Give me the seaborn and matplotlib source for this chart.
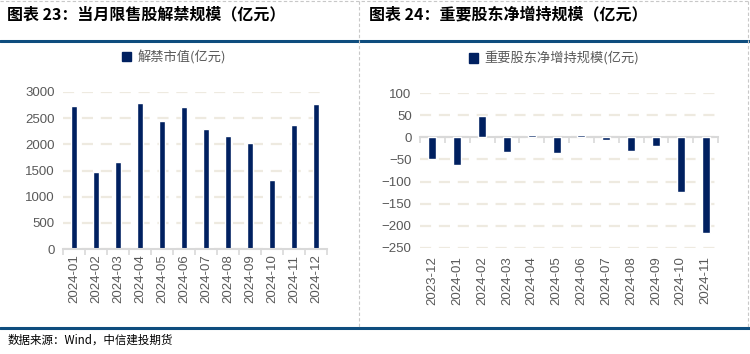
import pandas as pd
import matplotlib.pyplot as plt
import seaborn as sns
import numpy as np
from matplotlib.lines import Line2D
from matplotlib.patches import Patch

# data
unlock_months = ["2024-01", "2024-02", "2024-03", "2024-04", "2024-05", "2024-06",
                 "2024-07", "2024-08", "2024-09", "2024-10", "2024-11", "2024-12"]
unlock_values = [2732, 1471, 1662, 2790, 2446, 2713, 2293, 2159, 2025, 1318, 2369, 2771]

holder_months = ["2023-12", "2024-01", "2024-02", "2024-03", "2024-04", "2024-05",
                 "2024-06", "2024-07", "2024-08", "2024-09", "2024-10", "2024-11"]
holder_values = [-48, -62, 49, -34, 6, -36, 6, -5, -31, -20, -123, -215]

titles = ["图表 23：当月限售股解禁规模（亿元）", "图表 24：重要股东净增持规模（亿元）"]
legends = ["解禁市值(亿元)", "重要股东净增持规模(亿元)"]
source = "数据来源：Wind，中信建投期货"

bar_color = "#002060"
grid_color = "#EEEAE0"
axis_color = "#D9D9D9"
text_color = "#595959"
rule_color = "#0E4D7E"

sns.set_theme(style="white")
plt.rcParams["font.family"] = ["Liberation Sans", "Noto Sans CJK SC", "DejaVu Sans"]

fig = plt.figure(figsize=(7.5, 3.54), dpi=100)
W, H = 750, 354


def fx(px):
    return px / W


def fy(py):
    return 1 - py / H


# frame decorations (rules, dividers)
fig.add_artist(Line2D([0, 1], [fy(40.5), fy(40.5)], color=rule_color, lw=2.2))
fig.add_artist(Line2D([0, 1], [fy(328), fy(328)], color=rule_color, lw=2.2))
fig.add_artist(Line2D([fx(359), fx(359)], [fy(1), fy(328)], color="#C8C8C8", lw=0.8, ls=(0, (3, 2))))
fig.add_artist(Line2D([fx(748), fx(748)], [fy(1), fy(328)], color="#C8C8C8", lw=0.8, ls=(0, (3, 2))))
fig.add_artist(Line2D([0, 1], [fy(1), fy(1)], color="#C8C8C8", lw=0.8, ls=(0, (3, 2))))

fig.text(fx(7), fy(14), titles[0], fontsize=11.5, fontweight="bold", color="black",
         va="center", ha="left", family=["Noto Sans CJK SC"])
fig.text(fx(369), fy(14), titles[1], fontsize=11.5, fontweight="bold", color="black",
         va="center", ha="left", family=["Noto Sans CJK SC"])
fig.text(fx(8), fy(340), source, fontsize=8.3, color="black", va="center", ha="left",
         family=["Noto Sans CJK SC"], style="italic")


def style_axis(ax, label, anchor_x):
    ax.set_facecolor("white")
    for s in ["top", "right", "left"]:
        ax.spines[s].set_visible(False)
    ax.yaxis.grid(True, color=grid_color, lw=1.6, ls=(0, (5, 3.5)))
    ax.set_axisbelow(True)
    ax.set_xlabel("")
    ax.set_ylabel("")
    ax.tick_params(axis="y", length=0, labelsize=9.5, labelcolor=text_color, pad=6)
    leg = ax.legend(handles=[Patch(color=bar_color, label=label)], loc="lower center",
                    bbox_to_anchor=(anchor_x, 1.1), frameon=False, handlelength=0.7,
                    handleheight=0.7, handletextpad=0.5,
                    prop={"family": "Noto Sans CJK SC", "size": 9.5})
    for t in leg.get_texts():
        t.set_color(text_color)


# left chart
ax1 = fig.add_axes([fx(63), fy(249), fx(327) - fx(63), fy(92) - fy(249)])
df1 = pd.DataFrame({"month": unlock_months, "value": unlock_values})
sns.barplot(data=df1, x="month", y="value", color=bar_color, saturation=1, width=0.27, ax=ax1)
ax1.set_ylim(0, 3000)
ax1.set_yticks(np.arange(0, 3001, 500))
ax1.set_xlim(-0.5, len(unlock_months) - 0.5)
ax1.spines["bottom"].set_color(axis_color)
ax1.spines["bottom"].set_linewidth(1.5)
ax1.set_xticks(np.arange(len(unlock_months) + 1) - 0.5, minor=True)
ax1.tick_params(axis="x", which="minor", length=4, width=1.2, color=axis_color, direction="out", bottom=True)
ax1.tick_params(axis="x", which="major", length=0, labelsize=9.5, labelcolor=text_color, rotation=90, pad=4)
style_axis(ax1, legends[0], 0.42)

# right chart
ax2 = fig.add_axes([fx(420), fy(248), fx(718) - fx(420), fy(93) - fy(248)])
df2 = pd.DataFrame({"month": holder_months, "value": holder_values})
sns.barplot(data=df2, x="month", y="value", color=bar_color, saturation=1, width=0.32, ax=ax2)
ax2.set_ylim(-250, 100)
ax2.set_yticks(np.arange(-250, 101, 50))
ax2.set_xlim(-0.5, len(holder_months) - 0.5)
ax2.spines["bottom"].set_position(("data", 0))
ax2.spines["bottom"].set_color(axis_color)
ax2.spines["bottom"].set_linewidth(1.5)
ax2.spines["bottom"].set_zorder(0.8)
ax2.set_xticks(np.arange(len(holder_months) + 1) - 0.5, minor=True)
ax2.tick_params(axis="x", which="minor", length=4, width=1.2, color=axis_color, direction="out", bottom=True)
ax2.tick_params(axis="x", which="major", length=0, labelbottom=False)
sec = ax2.secondary_xaxis(0.0)
sec.set_xticks(np.arange(len(holder_months)))
sec.set_xticklabels(holder_months)
sec.spines["bottom"].set_visible(False)
sec.tick_params(length=0, labelsize=9.5, labelcolor=text_color, rotation=90, pad=6)
style_axis(ax2, legends[1], 0.45)

fig.savefig("out.png", dpi=100)
